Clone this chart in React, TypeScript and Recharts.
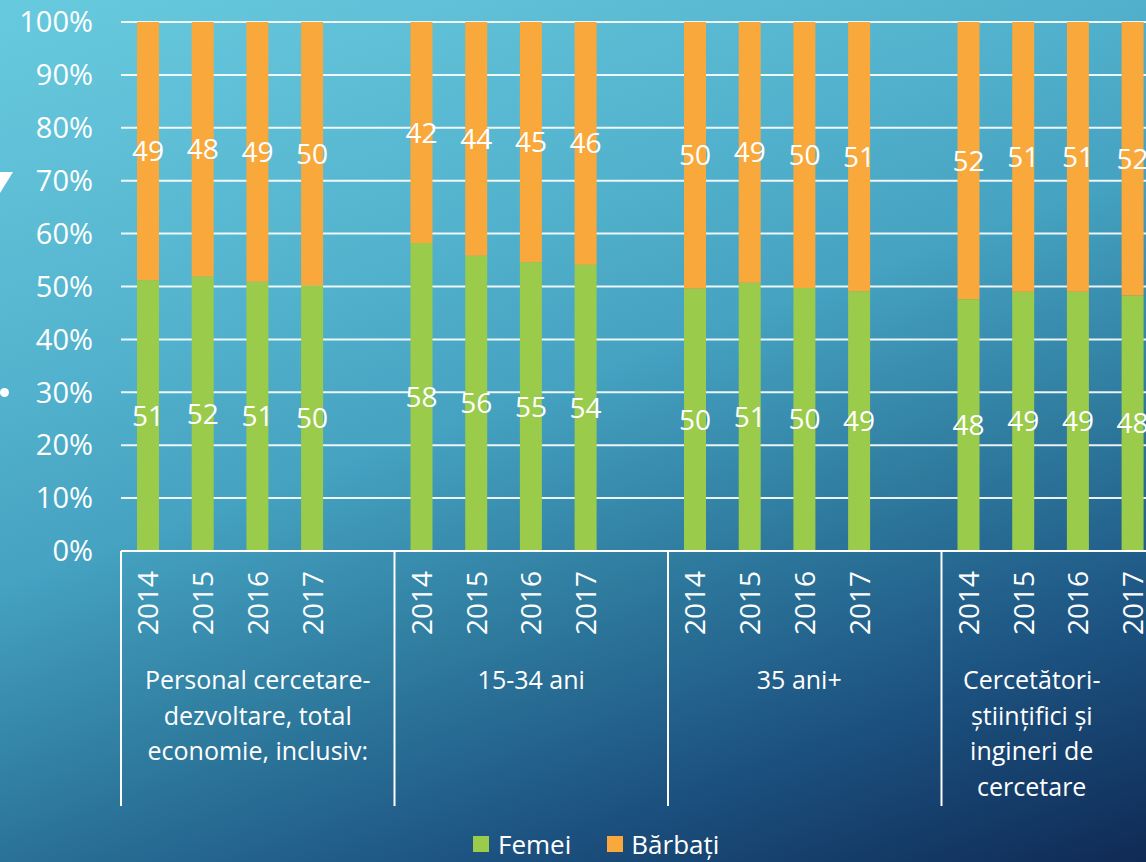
import React from 'react';
import { BarChart, Bar, XAxis, YAxis, CartesianGrid, LabelList } from 'recharts';

// Date: ponderea femeilor / barbatilor in personalul CD (%)
const groupLabels = [
  ['Personal cercetare-', 'dezvoltare, total', 'economie, inclusiv:'],
  ['15-34 ani'],
  ['35 ani+'],
  ['Cercetători-', 'științifici și', 'ingineri de', 'cercetare'],
];
const years = ['2014', '2015', '2016', '2017'];

const femei = [
  51.2, 51.9, 50.9, 50.2,
  58.2, 55.8, 54.6, 54.1,
  49.6, 50.7, 49.7, 49.1,
  47.6, 49.0, 49.0, 48.3,
];
const barbati = [
  48.8, 48.1, 49.1, 49.8,
  41.8, 44.2, 45.4, 45.9,
  50.4, 49.3, 50.3, 50.9,
  52.4, 51.0, 51.0, 51.7,
];
const yTicks = [0, 10, 20, 30, 40, 50, 60, 70, 80, 90, 100];

const GREEN = '#9acb4b';
const ORANGE = '#f9a83b';
const FONT = '"Open Sans", Lato, sans-serif';

// grafic
const PLOT_LEFT = 121;
const PLOT_BOTTOM = 551;
const PLOT_WIDTH = 1094;
const SLOTS = 5; // 4 ani + un spatiu gol pe grupa
const BAND = PLOT_WIDTH / (groupLabels.length * SLOTS);
const labelShift = [2.5, 2.5, 2.4, 1.65];

type Row = {
  key: string;
  year: string;
  group: number;
  first: boolean;
  femei: number | null;
  barbati: number | null;
};

const rows: Row[] = [];
groupLabels.forEach((_, g) => {
  years.forEach((y, i) => {
    rows.push({
      key: `${g}-${y}`,
      year: y,
      group: g,
      first: i === 0,
      femei: femei[g * 4 + i],
      barbati: barbati[g * 4 + i],
    });
  });
  rows.push({ key: `${g}-gap`, year: '', group: g, first: false, femei: null, barbati: null });
});
const rowByKey: Record<string, Row> = {};
rows.forEach((r) => (rowByKey[r.key] = r));

const CategoryTick = (props: any) => {
  const { x, payload } = props;
  const row = rowByKey[payload.value];
  if (!row) return null;
  const start = x - BAND / 2;
  const lines = groupLabels[row.group];
  const cx = start + BAND * labelShift[row.group];
  return (
    <g>
      {row.year && (
        <text
          x={x}
          y={571}
          transform={`rotate(-90, ${x}, 571)`}
          textAnchor="end"
          dy="0.36em"
          fill="#fff"
          fontSize={28}
          fontFamily={FONT}
        >
          {row.year}
        </text>
      )}
      {row.first && (
        <line x1={start} x2={start} y1={PLOT_BOTTOM} y2={806} stroke="#fff" strokeWidth={2} />
      )}
      {row.first && (
        <text textAnchor="middle" fill="#fff" fontSize={25} fontFamily={FONT}>
          {lines.map((l, i) => (
            <tspan key={i} x={cx} y={689 + i * 35.5}>
              {l}
            </tspan>
          ))}
        </text>
      )}
    </g>
  );
};

const fmt = (v: any) => (v == null ? '' : Math.round(Number(v)));

export default function App() {
  return (
    <div
      style={{
        position: 'absolute',
        left: 0,
        top: 0,
        width: 1146,
        height: 862,
        overflow: 'hidden',
        fontFamily: FONT,
        background:
          'linear-gradient(160deg, #68cade 0%, #55b5cf 28%, #45a2c1 46%, #2f7c9f 63%, #1d5482 80%, #0f2a55 100%)',
      }}
    >
      {/* marcaje de lista din slide, taiate la margine */}
      <div
        style={{
          position: 'absolute',
          left: -13,
          top: 172,
          width: 0,
          height: 0,
          borderLeft: '13px solid transparent',
          borderRight: '13px solid transparent',
          borderTop: '21px solid #fff',
        }}
      />
      <div
        style={{ position: 'absolute', left: 0, top: 388, width: 9, height: 9, borderRadius: '50%', background: '#fff' }}
      />

      <BarChart
        width={PLOT_LEFT + PLOT_WIDTH}
        height={862}
        data={rows}
        margin={{ top: 22, right: 0, bottom: 0, left: 0 }}
      >
        <CartesianGrid vertical={false} stroke="#fff" strokeWidth={2} strokeOpacity={0.9} />
        <YAxis
          type="number"
          domain={[0, 100]}
          ticks={yTicks}
          width={PLOT_LEFT}
          axisLine={false}
          tickLine={false}
          tickMargin={22}
          tickFormatter={(v) => `${v}%`}
          tick={{ fill: '#fff', fontSize: 29, fontFamily: FONT }}
        />
        <XAxis
          dataKey="key"
          height={862 - PLOT_BOTTOM}
          interval={0}
          axisLine={{ stroke: '#fff', strokeWidth: 2 }}
          tickLine={false}
          tickSize={0}
          tickMargin={0}
          tick={<CategoryTick />}
        />
        <Bar dataKey="femei" stackId="a" fill={GREEN} barSize={22} isAnimationActive={false}>
          <LabelList dataKey="femei" position="center" formatter={fmt} fill="#fff" fontSize={28} fontFamily={FONT} />
        </Bar>
        <Bar dataKey="barbati" stackId="a" fill={ORANGE} barSize={22} isAnimationActive={false}>
          <LabelList dataKey="barbati" position="center" formatter={fmt} fill="#fff" fontSize={28} fontFamily={FONT} />
        </Bar>
      </BarChart>

      <div
        style={{
          position: 'absolute',
          left: 473,
          top: 829,
          display: 'flex',
          alignItems: 'center',
          color: '#fff',
          fontSize: 26,
          lineHeight: '30px',
        }}
      >
        <span style={{ width: 16, height: 16, background: GREEN, display: 'inline-block', marginRight: 9 }} />
        <span>Femei</span>
        <span
          style={{ width: 16, height: 16, background: ORANGE, display: 'inline-block', marginLeft: 36, marginRight: 8 }}
        />
        <span>Bărbați</span>
      </div>
    </div>
  );
}
